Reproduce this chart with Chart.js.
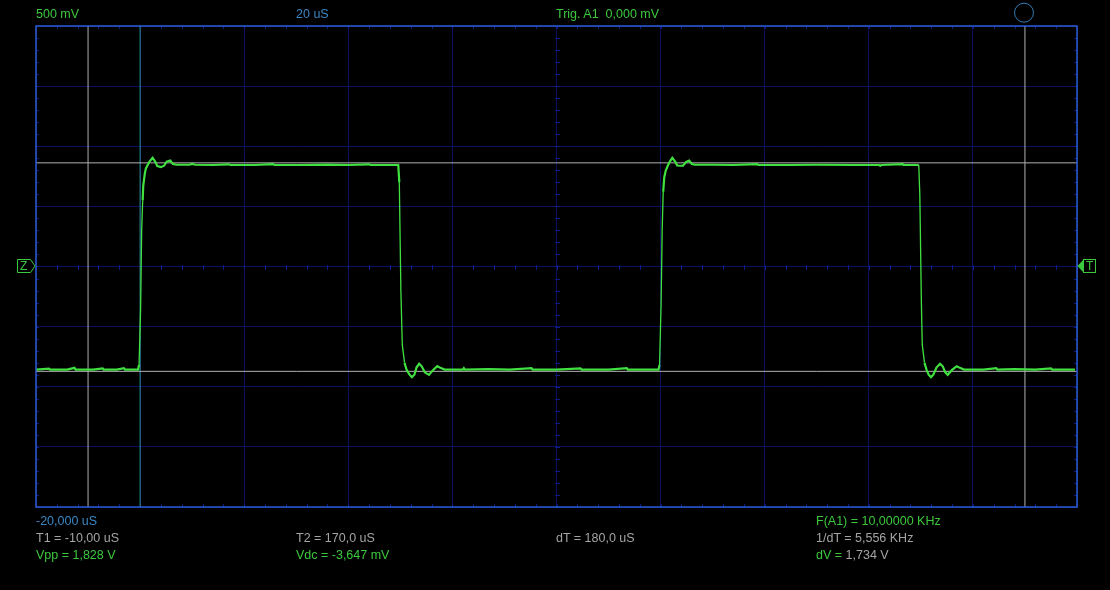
<!DOCTYPE html>
<html>
<head>
<meta charset="utf-8">
<script src="https://cdn.jsdelivr.net/npm/chart.js@4"></script>
<style>
body { margin: 0; background: #000; }
#wrap { position: relative; width: 1110px; height: 590px; overflow: hidden; background: #000; }
#scope { position: absolute; left: 0; top: 0; }
.lbl { position: absolute; font-family: 'Liberation Sans', Arial, sans-serif; font-size: 12.5px; line-height: 13px; white-space: pre; }
.g { color: #3cc83c; }
.b { color: #3a86c4; }
.w { color: #a4a4a4; }
</style>
</head>
<body>
<div id="wrap">
  <canvas id="scope" width="1110" height="590"></canvas>
  <div class="lbl g" style="left:36px;top:8px">500 mV</div>
  <div class="lbl b" style="left:296px;top:8px">20 uS</div>
  <div class="lbl g" style="left:556px;top:8px">Trig. A1  0,000 mV</div>
  <div class="lbl g" style="left:20px;top:260px;font-size:12px">Z</div>
  <div class="lbl g" style="left:1086px;top:260px;font-size:12px">T</div>
  <div class="lbl b" style="left:36px;top:515px">-20,000 uS</div>
  <div class="lbl g" style="left:816px;top:515px">F(A1) = 10,00000 KHz</div>
  <div class="lbl w" style="left:36px;top:532px">T1 = -10,00 uS</div>
  <div class="lbl w" style="left:296px;top:532px">T2 = 170,0 uS</div>
  <div class="lbl w" style="left:556px;top:532px">dT = 180,0 uS</div>
  <div class="lbl w" style="left:816px;top:532px">1/dT = 5,556 KHz</div>
  <div class="lbl g" style="left:36px;top:549px">Vpp = 1,828 V</div>
  <div class="lbl g" style="left:296px;top:549px">Vdc = -3,647 mV</div>
  <div class="lbl g" style="left:816px;top:549px">dV = <span class="w">1,734 V</span></div>
</div>
<script>
// 时间轴 (uS) 和电压 (V)
const timeMin = -20, timeMax = 180, timeDiv = 20;
const voltMin = -2, voltMax = 2, voltDiv = 0.5;

// 通道 A1 波形 (从截图读出)
const traceTime = [
  -20, -17.5, -17.3, -14, -12.6, -12.4, -9, -7.2, -7, -4.5, -3.1, -2.9, -0.4,
  -0.2, 0.1, 0.3, 0.5, 0.6, 0.9, 1.1, 1.4, 1.8, 2.4, 2.9, 3.3, 4.0, 4.6, 5.1, 5.8, 6.3, 7.0,
  9.5, 10.0, 10.6, 14, 17, 17.4, 22, 25.5, 25.8, 31, 36, 40, 44, 44.3, 49.6,
  49.8, 50.1, 50.37, 50.8, 51.2, 51.7, 52.2, 52.7, 53.1, 53.6, 54.1, 54.7, 55.5, 56.3, 57.1, 57.8, 58.5,
  62, 62.2, 62.4, 67, 71, 75.2, 75.4, 80, 84.6, 84.8, 90, 93.5, 93.7, 99.6,
  99.8, 100.1, 100.3, 100.5, 100.7, 101.0, 101.4, 101.8, 102.25, 102.8, 103.2, 103.7, 104.3, 104.9, 105.5, 106.0, 106.6,
  110, 114, 118.5, 118.8, 125, 130, 137, 142, 142.2, 142.4, 146.5, 146.7, 149.6,
  149.8, 150.1, 150.27, 150.7, 151.1, 151.5, 151.95, 152.4, 153.0, 153.68, 154.2, 154.7, 155.16, 156.0, 156.9, 157.6, 158.3,
  162, 164.5, 164.7, 168, 172, 175, 175.2, 179.6
];
const traceVolt = [
  -0.857, -0.849, -0.857, -0.857, -0.843, -0.857, -0.857, -0.848, -0.857, -0.857, -0.845, -0.857, -0.857,
  -0.82, -0.35, 0.3, 0.55, 0.67, 0.77, 0.815, 0.84, 0.872, 0.904, 0.872, 0.835, 0.826, 0.838, 0.872, 0.881, 0.852, 0.846,
  0.846, 0.853, 0.846, 0.844, 0.85, 0.844, 0.844, 0.852, 0.844, 0.844, 0.848, 0.844, 0.85, 0.844, 0.844,
  0.70, -0.2, -0.65, -0.8, -0.86, -0.895, -0.921, -0.9, -0.84, -0.809, -0.83, -0.88, -0.901, -0.86, -0.829, -0.845, -0.857,
  -0.857, -0.845, -0.857, -0.853, -0.857, -0.845, -0.857, -0.857, -0.847, -0.857, -0.857, -0.845, -0.857, -0.857,
  -0.82, -0.3, 0.3, 0.62, 0.74, 0.8, 0.84, 0.875, 0.904, 0.872, 0.84, 0.838, 0.838, 0.87, 0.881, 0.852, 0.846,
  0.846, 0.844, 0.852, 0.844, 0.844, 0.846, 0.844, 0.844, 0.838, 0.844, 0.852, 0.844, 0.844,
  0.6, -0.3, -0.65, -0.8, -0.86, -0.9, -0.921, -0.9, -0.84, -0.809, -0.83, -0.88, -0.901, -0.86, -0.829, -0.845, -0.857,
  -0.857, -0.845, -0.857, -0.853, -0.857, -0.847, -0.857, -0.857
];

// 光标
const cursorTimes = [-10, 170];
const cursorVolts = [0.862, -0.872];
const triggerTime = [0];

const GRID = '#0a1062';
const FRAME = '#2d5cd2';
const CURSOR = '#b0b0b0';

function vLine(t, color) {
  return { data: [{ x: t, y: voltMin }, { x: t, y: voltMax }], borderColor: color, borderWidth: 1, pointRadius: 0 };
}
function hLine(v, color) {
  return { data: [{ x: timeMin, y: v }, { x: timeMax, y: v }], borderColor: color, borderWidth: 1, pointRadius: 0 };
}

// 边框, 小刻度, 标记
const scopeDecor = {
  id: 'scopeDecor',
  beforeDatasetsDraw(chart) {
    const { ctx, chartArea: a, scales: { x, y } } = chart;
    ctx.save();
    ctx.strokeStyle = '#101c86';
    ctx.lineWidth = 1;
    ctx.beginPath();
    const cy = Math.round(y.getPixelForValue(0)) + 0.5;
    const cx = Math.round(x.getPixelForValue((timeMin + timeMax) / 2)) + 0.5;
    for (let v = timeMin; v <= timeMax + 0.01; v += timeDiv / 5) {
      const px = Math.round(x.getPixelForValue(v)) + 0.5;
      ctx.moveTo(px, a.top); ctx.lineTo(px, a.top + 3);
      ctx.moveTo(px, a.bottom); ctx.lineTo(px, a.bottom - 3);
      ctx.moveTo(px, cy - 2.5); ctx.lineTo(px, cy + 2.5);
    }
    for (let v = voltMin; v <= voltMax + 0.001; v += voltDiv / 5) {
      const py = Math.round(y.getPixelForValue(v)) + 0.5;
      ctx.moveTo(a.left, py); ctx.lineTo(a.left + 3, py);
      ctx.moveTo(a.right, py); ctx.lineTo(a.right - 3, py);
      ctx.moveTo(cx - 2.5, py); ctx.lineTo(cx + 2.5, py);
    }
    ctx.stroke();
    ctx.restore();
  },
  afterDraw(chart) {
    const { ctx, chartArea: a } = chart;
    ctx.save();
    ctx.strokeStyle = FRAME;
    ctx.lineWidth = 1.5;
    ctx.strokeRect(a.left, a.top, a.right - a.left, a.bottom - a.top);

    // Z 标记
    ctx.strokeStyle = '#3cc83c';
    ctx.lineWidth = 1;
    ctx.beginPath();
    ctx.moveTo(17.5, 259.5); ctx.lineTo(30.5, 259.5); ctx.lineTo(35, 266);
    ctx.lineTo(30.5, 272.5); ctx.lineTo(17.5, 272.5); ctx.closePath();
    ctx.stroke();

    // T 标记
    ctx.fillStyle = '#3cc83c';
    ctx.beginPath();
    ctx.moveTo(1077.5, 266); ctx.lineTo(1083.5, 259.5); ctx.lineTo(1083.5, 272.5); ctx.closePath();
    ctx.fill();
    ctx.strokeRect(1083.5, 259.5, 12, 13);

    // 圆圈
    ctx.strokeStyle = '#2f7cb6';
    ctx.beginPath();
    ctx.arc(1024, 12.7, 9.5, 0, Math.PI * 2);
    ctx.stroke();
    ctx.restore();
  }
};

new Chart(document.getElementById('scope').getContext('2d'), {
  type: 'line',
  data: {
    datasets: [
      {
        label: 'A1',
        data: traceTime.map((t, i) => ({ x: t, y: traceVolt[i] })),
        borderColor: '#40e040',
        borderWidth: 2,
        pointRadius: 0,
        tension: 0,
        segment: {
          borderWidth: c => Math.abs(c.p1.parsed.y - c.p0.parsed.y) > 0.15 ? 1.3 : 2.2
        }
      },
      ...cursorTimes.map(t => vLine(t, CURSOR)),
      ...cursorVolts.map(v => hLine(v, CURSOR)),
      ...triggerTime.map(t => vLine(t, '#2a9090'))
    ]
  },
  options: {
    responsive: false,
    animation: false,
    devicePixelRatio: 1,
    layout: { padding: { left: 36, top: 26, right: 33, bottom: 83 } },
    plugins: { legend: { display: false }, tooltip: { enabled: false } },
    scales: {
      x: {
        type: 'linear', min: timeMin, max: timeMax,
        ticks: { display: false, stepSize: timeDiv },
        grid: { color: GRID, drawTicks: false, lineWidth: 1 },
        border: { display: false }
      },
      y: {
        type: 'linear', min: voltMin, max: voltMax,
        ticks: { display: false, stepSize: voltDiv },
        grid: { color: GRID, drawTicks: false, lineWidth: 1 },
        border: { display: false }
      }
    }
  },
  plugins: [scopeDecor]
});
</script>
</body>
</html>
